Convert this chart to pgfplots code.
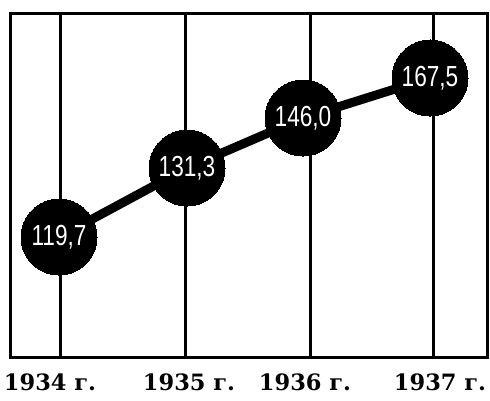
\documentclass[border=0pt]{standalone}
\usepackage{pgfplots}
\pgfplotsset{compat=1.18}
\usepackage{fontspec}
\setmainfont{DejaVu Serif}
\newfontfamily\lab[FakeStretch=0.78]{Liberation Sans}
\begin{document}
\begin{tikzpicture}
\begin{axis}[
 name=ax,
 scale only axis, width=477pt, height=343pt,
 xmin=10,xmax=487,ymin=43,ymax=386,
 axis line style={line width=3pt},
 ytick=\empty,
 xtick={50,189,305,440},
 xticklabels={1934 г.,1935 г.,1936 г.,1937 г.},
 xticklabel style={font=\bfseries\fontsize{22.5}{22.5}\selectfont, yshift=-13pt},
 major tick length=0pt,
 extra x ticks={60,185,310,433},
 extra x tick labels={},
 extra x tick style={grid=major, major grid style={line width=3pt,black}},
 clip=false,
 nodes near coords, point meta=explicit symbolic,
 every node near coord/.style={anchor=center, text=white, font=\lab\fontsize{29}{29}\selectfont},
]
\addplot[line width=9pt, black, mark=*, mark size=38pt, mark options={line width=0pt}] table[meta=lab]{
x y lab
59 163 119,7
187 232 131,3
303 282 146,0
430 322 167,5
};
\end{axis}
\pgfresetboundingbox
\path[use as bounding box] (ax.south west) ++(-10pt,-43pt) rectangle ([shift={(3pt,14pt)}]ax.north east);
\end{tikzpicture}
\end{document}
